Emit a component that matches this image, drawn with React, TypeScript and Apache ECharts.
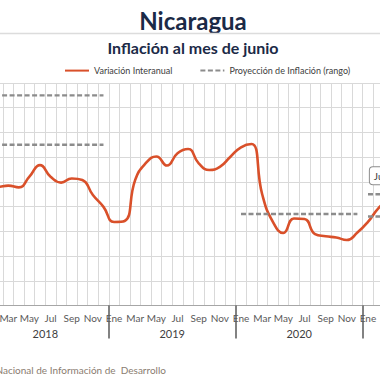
import React, { useEffect, useRef } from "react";
import * as echarts from "echarts";

// Month labels (Spanish) and years shown on the axis
const monthNames = ["Ene", "Feb", "Mar", "Abr", "May", "Jun", "Jul", "Ago", "Sep", "Oct", "Nov", "Dic"];
const yearLabels = ["2018", "2019", "2020", "2021"];

// Monthly categories: Jan 2018 .. Jun 2021
const categories: string[] = [
  "2018-01", "2018-02", "2018-03", "2018-04", "2018-05", "2018-06", "2018-07", "2018-08", "2018-09", "2018-10", "2018-11", "2018-12",
  "2019-01", "2019-02", "2019-03", "2019-04", "2019-05", "2019-06", "2019-07", "2019-08", "2019-09", "2019-10", "2019-11", "2019-12",
  "2020-01", "2020-02", "2020-03", "2020-04", "2020-05", "2020-06", "2020-07", "2020-08", "2020-09", "2020-10", "2020-11", "2020-12",
  "2021-01", "2021-02", "2021-03", "2021-04", "2021-05", "2021-06",
];

// Variación interanual (%)
const inflation: number[] = [
  4.95, 4.8, 4.85, 4.78, 5.21, 5.68, 5.21, 4.97, 5.14, 5.08, 4.47, 3.99,
  3.38, 3.42, 5.08, 5.76, 6.03, 5.66, 6.16, 6.33, 5.75, 5.48, 5.61, 6.02,
  6.4, 6.53, 4.5, 3.39, 2.93, 3.52, 3.5, 2.89, 2.8, 2.75, 2.65, 2.95,
  3.38, 3.94, 4.3, 4.45, 4.6, 4.7,
];

// Proyección de inflación (rango): upper / lower bounds and the 2020 line
const projUpper: (number | null)[] = [
  8.5, 8.5, 8.5, 8.5, 8.5, 8.5, 8.5, 8.5, 8.5, 8.5, 8.5, 8.5,
  null, null, null, null, null, null, null, null, null, null, null, null,
  null, null, null, null, null, null, null, null, null, null, null, null,
  4.5, 4.5, 4.5, 4.5, 4.5, 4.5,
];
const projLower: (number | null)[] = [
  6.5, 6.5, 6.5, 6.5, 6.5, 6.5, 6.5, 6.5, 6.5, 6.5, 6.5, 6.5,
  null, null, null, null, null, null, null, null, null, null, null, null,
  null, null, null, null, null, null, null, null, null, null, null, null,
  3.6, 3.6, 3.6, 3.6, 3.6, 3.6,
];
const proj2020: (number | null)[] = [
  null, null, null, null, null, null, null, null, null, null, null, null,
  null, null, null, null, null, null, null, null, null, null, null, null,
  3.7, 3.7, 3.7, 3.7, 3.7, 3.7, 3.7, 3.7, 3.7, 3.7, 3.7, 3.7,
  null, null, null, null, null, null,
];

const lastLabel = "Jun 2021: 4.70%";

const FONT = "Lato, 'DejaVu Sans', sans-serif";
const SHIFT = 70; // chart is wider than the visible frame
const CHART_W = 520;
const CHART_H = 380;
const PROJ_NAME = "Proyección de Inflación (rango)";
const MAIN_NAME = "Variación Interanual";

export default function App() {
  const ref = useRef<HTMLDivElement>(null);

  useEffect(() => {
    if (!ref.current) return;
    const chart = echarts.init(ref.current, null, { renderer: "svg" });
    const n = categories.length;
    const lastIdx = n - 1;

    const dashed = (data: (number | null)[]) => ({
      name: PROJ_NAME,
      type: "line",
      xAxisIndex: 0,
      data,
      symbol: "none",
      connectNulls: false,
      lineStyle: { color: "#8c8c8c", width: 2.4, type: [5, 2.5] },
      itemStyle: { color: "#8c8c8c" },
      emphasis: { disabled: true },
    });

    const option: any = {
      animation: false,
      backgroundColor: "#ffffff",
      textStyle: { fontFamily: FONT },
      graphic: [
        {
          type: "text",
          x: 193 + SHIFT,
          y: 20,
          style: {
            text: "Nicaragua",
            font: `bold 24px ${FONT}`,
            fill: "#1b2a47",
            textAlign: "center",
            textVerticalAlign: "middle",
          },
        },
        {
          type: "line",
          shape: { x1: 0, y1: 33.5, x2: CHART_W, y2: 33.5 },
          style: { stroke: "#dcdcdc", lineWidth: 1.5 },
        },
        {
          type: "text",
          x: 193 + SHIFT,
          y: 47,
          style: {
            text: "Inflación al mes de junio",
            font: `bold 16px ${FONT}`,
            fill: "#1b2a47",
            textAlign: "center",
            textVerticalAlign: "middle",
          },
        },
        {
          type: "text",
          x: 166 + SHIFT,
          y: 370,
          style: {
            text: "Fuente: Instituto Nacional de Información de  Desarrollo",
            font: `10px ${FONT}`,
            fill: "#8a7c70",
            textAlign: "right",
            textVerticalAlign: "middle",
          },
        },
      ],
      legend: {
        left: 64 + SHIFT - 5,
        top: 60,
        padding: 5,
        itemWidth: 24,
        itemHeight: 14,
        itemGap: 27,
        itemStyle: { opacity: 0 },
        textStyle: { fontSize: 9, color: "#404040", fontFamily: FONT },
        data: [MAIN_NAME, PROJ_NAME],
      },
      grid: {
        left: 51.8,
        right: CHART_W - 51.8 - 42 * 10.58,
        top: 83,
        bottom: CHART_H - 305.5,
        containLabel: false,
      },
      xAxis: [
        {
          type: "category",
          data: categories,
          boundaryGap: true,
          position: "bottom",
          axisLine: { show: true, lineStyle: { color: "#a6a6a6", width: 1 } },
          axisTick: { show: false },
          axisLabel: {
            interval: 1,
            margin: 7,
            fontSize: 10,
            color: "#595959",
            fontFamily: FONT,
            formatter: (v: string) => monthNames[parseInt(v.slice(5), 10) - 1],
          },
          splitLine: { show: true, interval: 0, lineStyle: { color: "#d9d9d9", width: 1 } },
        },
        {
          type: "value",
          min: 0,
          max: n,
          interval: 12,
          position: "bottom",
          axisLine: { show: false },
          axisTick: { show: true, length: 33, lineStyle: { color: "#595959", width: 1.5 } },
          axisLabel: { show: false },
          splitLine: { show: false },
        },
        {
          type: "value",
          min: 0,
          max: n,
          interval: 6,
          position: "bottom",
          axisLine: { show: false },
          axisTick: { show: false },
          axisLabel: {
            margin: 22,
            fontSize: 11,
            color: "#404040",
            fontFamily: FONT,
            formatter: (v: number) => (v % 12 === 6 ? yearLabels[(v - 6) / 12] : ""),
          },
          splitLine: { show: false },
        },
      ],
      yAxis: {
        type: "value",
        min: 0,
        max: 9,
        interval: 1,
        axisLine: { show: false },
        axisTick: { show: false },
        axisLabel: { show: false },
        splitLine: { show: true, lineStyle: { color: "#d9d9d9", width: 1 } },
      },
      series: [
        {
          name: MAIN_NAME,
          type: "line",
          xAxisIndex: 0,
          data: inflation,
          smooth: true,
          symbol: "none",
          lineStyle: { color: "#d9502a", width: 2.6 },
          itemStyle: { color: "#d9502a" },
          emphasis: { disabled: true },
          z: 3,
          markPoint: {
            symbol: "circle",
            symbolSize: 0,
            data: [{ coord: [categories[lastIdx], inflation[lastIdx]], value: inflation[lastIdx] }],
            label: {
              show: true,
              position: "top",
              distance: 5,
              align: "left",
              offset: [-51, 0],
              formatter: () => lastLabel,
              fontSize: 10,
              lineHeight: 11,
              color: "#404040",
              fontFamily: FONT,
              backgroundColor: "#ffffff",
              borderColor: "#8c8c8c",
              borderWidth: 1,
              borderRadius: 3,
              padding: [3, 4],
            },
          },
        },
        dashed(projUpper),
        dashed(projLower),
        dashed(proj2020),
      ],
    };

    chart.setOption(option);
    return () => chart.dispose();
  }, []);

  return (
    <div
      style={{
        position: "fixed",
        left: 0,
        top: 0,
        width: 380,
        height: 380,
        overflow: "hidden",
        background: "#ffffff",
      }}
    >
      <div
        ref={ref}
        style={{ position: "absolute", left: -SHIFT, top: 0, width: CHART_W, height: CHART_H }}
      />
    </div>
  );
}
